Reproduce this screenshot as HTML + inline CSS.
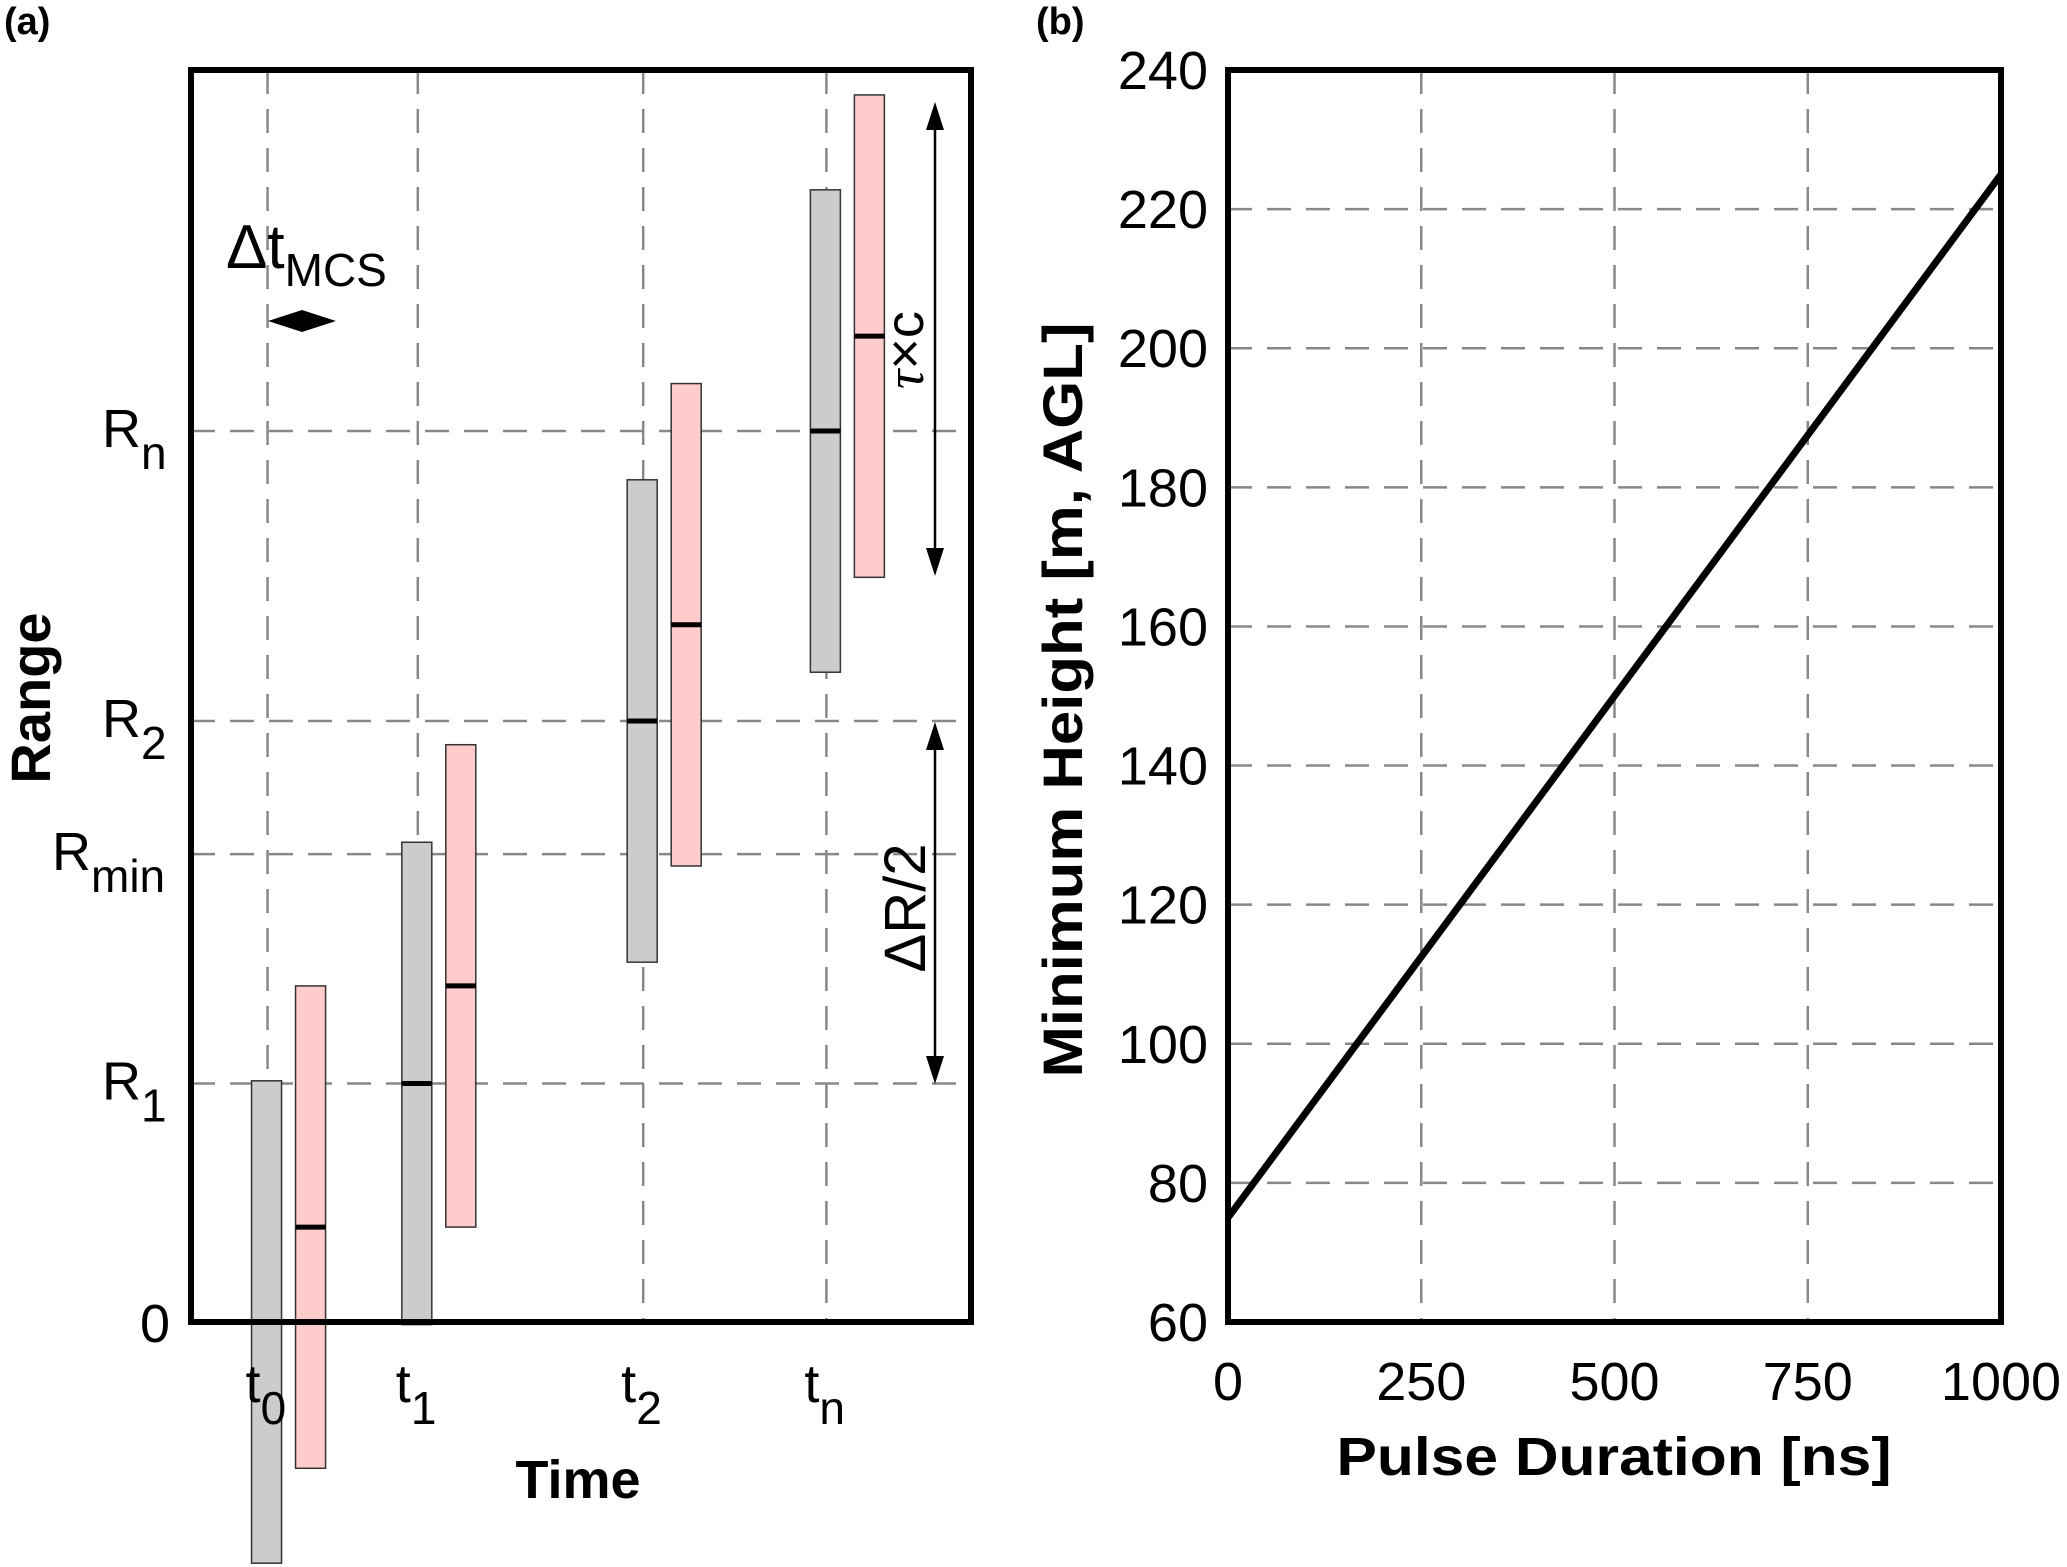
<!DOCTYPE html>
<html><head><meta charset="utf-8"><style>
html,body{margin:0;padding:0;background:#fff;}
svg{display:block;font-family:"Liberation Sans",sans-serif;}
</style></head><body>
<svg id="fig" width="2067" height="1567" viewBox="0 0 2067 1567" xmlns="http://www.w3.org/2000/svg">
<text x="4" y="34" font-size="38" font-weight="bold">(a)</text>
<text x="1036" y="34" font-size="38" font-weight="bold">(b)</text>
<g id="pa"></g>
<g id="pb"></g>
</svg>
<script>
// ---- Panel (a) data ----
const timeLabels = ["0","1","2","n"];
const timePos = [203, 317, 488, 627];          // time axis values (arbitrary units)
const rangeLabels = ["0","1","min","2","n"];
const rangeVals = [0, 1.81, 3.55, 4.56, 6.76];
const grayCenters = [0, 1.81, 4.56, 6.76];
const pinkCenters = [0.72, 2.55, 5.29, 7.48];
const halfLen = 1.83;

// ---- Panel (b) data ----
const pulseTicks = [0, 250, 500, 750, 1000];
const heightTicks = [60, 80, 100, 120, 140, 160, 180, 200, 220, 240];
const pulseVals = [0, 1000];
const heightVals = [75, 225];

const NS = "http://www.w3.org/2000/svg";
function mk(tag, attrs, parent, txt){
  const e = document.createElementNS(NS, tag);
  for (const k in attrs) e.setAttribute(k, attrs[k]);
  if (txt !== undefined) e.textContent = txt;
  parent.appendChild(e);
  return e;
}
const dash = "24 15";
// Panel a
const pa = document.getElementById('pa');
const AL=191, AR=971, AT=70, AB=1322;
const ya = v => AB - v*131.8;
const xa = t => 1.318*t;
timePos.forEach((t,i)=>{
  const l = mk('line',{x1:xa(t),x2:xa(t),y1:AT,y2:AB,stroke:'#888','stroke-width':2.5,'stroke-dasharray':dash},pa);
  
  
});
rangeVals.forEach((v,i)=>{
  if (v===0) return;
  const l = mk('line',{x1:AL,x2:AR,y1:ya(v),y2:ya(v),stroke:'#888','stroke-width':2.5,'stroke-dasharray':dash},pa);
  
  
});
function bar(cx, c, fill, name){
  const g = mk('g',{},pa);
  
  
  mk('rect',{x:cx,y:ya(c+halfLen),width:30,height:ya(c-halfLen)-ya(c+halfLen),fill:fill,stroke:'#333','stroke-width':1.5},g);
  mk('line',{x1:cx,x2:cx+30,y1:ya(c),y2:ya(c),stroke:'#000','stroke-width':5},g);
}
grayCenters.forEach((c,i)=>bar(xa(timePos[i])-16,c,'#cccccc','gray-pulse-bar-'+i));
pinkCenters.forEach((c,i)=>bar(xa(timePos[i])+28,c,'#ffcccc','pink-pulse-bar-'+i));
const box = mk('rect',{x:AL,y:AT,width:AR-AL,height:AB-AT,fill:'none',stroke:'#000','stroke-width':6},pa);


rangeVals.forEach((v,i)=>{
  const t = mk('text',{x:i===2?52:(i===0?140:102),y:ya(v)+(i===0?20:16),'font-size':54},pa);
  
  
  if (i===0){ t.textContent='0'; }
  else { t.textContent='R'; mk('tspan',{dy:22,'font-size':46},t,rangeLabels[i]); }
});
timePos.forEach((tt,i)=>{
  const t = mk('text',{x:xa(tt)-22,y:1402,'font-size':54},pa);
  
  
  t.textContent='t';
  mk('tspan',{dy:22,'font-size':46},t,timeLabels[i]);
});
</script>
<script>
// static annotations panel a
(function(){
const pa = document.getElementById('pa');
pa.insertAdjacentHTML('beforeend',`
<text x="578" y="1498" font-size="54" font-weight="bold" text-anchor="middle">Time</text>
<text transform="translate(50,698) rotate(-90)" font-size="56" font-weight="bold" text-anchor="middle">Range</text>
<text x="226" y="268" font-size="62">Δt<tspan dy="18" font-size="46">MCS</tspan></text>
<g>
<line x1="278" y1="321" x2="326" y2="321" stroke="#000" stroke-width="2"/>
<polygon points="268,321 302,310 302,332" fill="#000"/><polygon points="336,321 302,310 302,332" fill="#000"/></g>
<g>
<line x1="935" y1="108" x2="935" y2="570" stroke="#000" stroke-width="2.5"/>
<polygon points="935,102 926,130 944,130" fill="#000"/><polygon points="935,576 926,548 944,548" fill="#000"/></g>
<text transform="translate(923,350) rotate(-90)" font-size="54" text-anchor="middle"><tspan font-style="italic" font-family="Liberation Serif">τ</tspan>×c</text>
<g>
<line x1="935" y1="728" x2="935" y2="1078" stroke="#000" stroke-width="2.5"/>
<polygon points="935,722 926,750 944,750" fill="#000"/><polygon points="935,1084 926,1056 944,1056" fill="#000"/></g>
<text transform="translate(925,908) rotate(-90)" font-size="58" text-anchor="middle">ΔR/2</text>
`);
})();
</script>
<script>
// Panel b
(function(){
const pb = document.getElementById('pb');
const BL=1228, BR=2001, BT=70, BB=1322;
const xb = v => BL + (v-0)/1000*(BR-BL);
const yb = v => BB - (v-60)/180*(BB-BT);
pulseTicks.forEach((v,i)=>{
  if (v>0 && v<1000){
    const l = mk('line',{x1:xb(v),x2:xb(v),y1:BT,y2:BB,stroke:'#888','stroke-width':2.5,'stroke-dasharray':dash},pb);
    
    
  }
  const t = mk('text',{x:xb(v),y:1400,'font-size':54,'text-anchor':'middle'},pb,String(v));
  
  
});
heightTicks.forEach((v,i)=>{
  if (v>60 && v<240){
    const l = mk('line',{x1:BL,x2:BR,y1:yb(v),y2:yb(v),stroke:'#888','stroke-width':2.5,'stroke-dasharray':dash},pb);
    
    
  }
  const t = mk('text',{x:1208,y:yb(v)+19,'font-size':54,'text-anchor':'end'},pb,String(v));
  
  
});
const pts = pulseVals.map((v,i)=>xb(v)+','+yb(heightVals[i])).join(' ');
const ln = mk('polyline',{points:pts,fill:'none',stroke:'#000','stroke-width':7},pb);


const fr = mk('rect',{x:BL,y:BT,width:BR-BL,height:BB-BT,fill:'none',stroke:'#000','stroke-width':6},pb);


const xt = mk('text',{x:1614,y:1475,'font-size':54,'font-weight':'bold','text-anchor':'middle',textLength:555,lengthAdjust:'spacingAndGlyphs'},pb,'Pulse Duration [ns]');


const yt = mk('text',{transform:'translate(1082,700) rotate(-90)','font-size':56,'font-weight':'bold','text-anchor':'middle',textLength:755,lengthAdjust:'spacingAndGlyphs'},pb,'Minimum Height [m, AGL]');


})();
</script>
</body></html>
